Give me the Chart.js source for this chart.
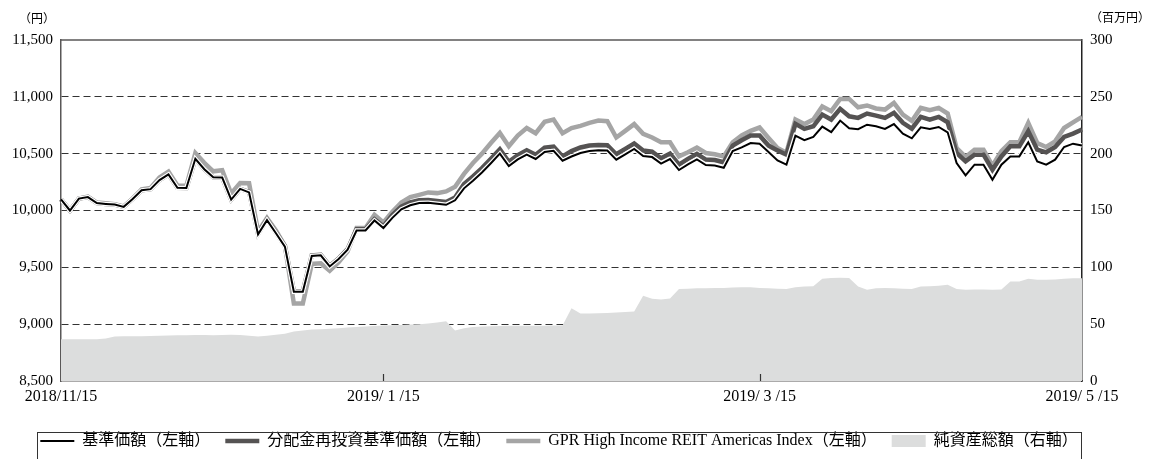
<!DOCTYPE html>
<html><head><meta charset="utf-8">
<script src="https://cdn.jsdelivr.net/npm/chart.js@4.4.0/dist/chart.umd.min.js"></script>
<style>html,body{margin:0;padding:0;background:#fff;}#wrap{position:relative;width:1154px;height:459px;}</style>
</head><body><div id="wrap"><canvas id="c"></canvas></div>
<script>
const dates = [
'2018/11/15','2018/11/16','2018/11/19','2018/11/20','2018/11/21','2018/11/22','2018/11/26','2018/11/27','2018/11/28','2018/11/29','2018/11/30',
'2018/12/03','2018/12/04','2018/12/05','2018/12/06','2018/12/07','2018/12/10','2018/12/11','2018/12/12','2018/12/13','2018/12/14','2018/12/17','2018/12/18','2018/12/19','2018/12/20','2018/12/21','2018/12/25','2018/12/26','2018/12/27','2018/12/28',
'2019/01/04','2019/01/07','2019/01/08','2019/01/09','2019/01/10','2019/01/11','2019/01/15','2019/01/16','2019/01/17','2019/01/18','2019/01/21','2019/01/22','2019/01/23','2019/01/24','2019/01/25','2019/01/28','2019/01/29','2019/01/30','2019/01/31',
'2019/02/01','2019/02/04','2019/02/05','2019/02/06','2019/02/07','2019/02/08','2019/02/12','2019/02/13','2019/02/14','2019/02/15','2019/02/18','2019/02/19','2019/02/20','2019/02/21','2019/02/22','2019/02/25','2019/02/26','2019/02/27','2019/02/28',
'2019/03/01','2019/03/04','2019/03/05','2019/03/06','2019/03/07','2019/03/08','2019/03/11','2019/03/12','2019/03/13','2019/03/14','2019/03/15','2019/03/18','2019/03/19','2019/03/20','2019/03/22','2019/03/25','2019/03/26','2019/03/27','2019/03/28','2019/03/29',
'2019/04/01','2019/04/02','2019/04/03','2019/04/04','2019/04/05','2019/04/08','2019/04/09','2019/04/10','2019/04/11','2019/04/12','2019/04/15','2019/04/16','2019/04/17','2019/04/18','2019/04/19','2019/04/22','2019/04/23','2019/04/24','2019/04/25','2019/04/26',
'2019/05/07','2019/05/08','2019/05/09','2019/05/10','2019/05/13','2019/05/14','2019/05/15'
];
const tickDates = ['2018/11/15','2019/01/15','2019/03/15','2019/05/15'];
const tickLabels = ['2018/11/15','2019/ 1 /15','2019/ 3 /15','2019/ 5 /15'];
const leftTicks = [8500,9000,9500,10000,10500,11000,11500];
const rightTicks = [0,50,100,150,200,250,300];
const unitLeft = '（円）';
const unitRight = '（百万円）';
const seriesNames = ['基準価額（左軸）','分配金再投資基準価額（左軸）','GPR High Income REIT Americas Index（左軸）','純資産総額（右軸）'];

const nav = [
10098,10000,10105,10118,10065,10058,10052,10032,10102,10178,
10188,10268,10318,10200,10198,10455,10363,10292,10290,10096,
10190,10159,9790,9915,9800,9682,9285,9285,9600,9606,
9508,9574,9655,9824,9824,9912,9846,9935,10010,10046,
10066,10068,10059,10050,10090,10195,10262,10335,10416,10500,
10390,10450,10492,10453,10515,10525,10438,10475,10506,10524,
10529,10527,10447,10494,10541,10479,10470,10412,10453,10356,
10406,10450,10400,10396,10376,10523,10555,10594,10588,10515,
10441,10403,10659,10618,10647,10738,10690,10791,10724,10715,
10755,10741,10718,10760,10676,10635,10732,10718,10735,10688,
10418,10309,10403,10403,10271,10403,10476,10476,10600,10432,
10403,10447,10559,10588,10571
];
const navReinvested = [
10098,10000,10105,10118,10065,10058,10052,10032,10102,10178,
10188,10268,10318,10200,10198,10455,10363,10292,10290,10096,
10190,10164,9795,9920,9805,9687,9290,9290,9605,9611,
9513,9579,9660,9834,9834,9922,9861,9960,10035,10071,
10091,10093,10084,10075,10115,10233,10300,10373,10454,10538,
10428,10488,10530,10491,10553,10563,10476,10523,10554,10572,
10577,10575,10495,10542,10589,10527,10518,10460,10501,10404,
10454,10498,10448,10444,10424,10571,10618,10659,10659,10571,
10529,10491,10762,10718,10741,10844,10800,10894,10829,10815,
10853,10835,10815,10859,10771,10720,10824,10800,10824,10776,
10506,10432,10491,10491,10359,10476,10565,10565,10697,10535,
10512,10559,10647,10676,10712
];
const gprIndex = [
10098,10000,10105,10122,10070,10064,10055,10035,10105,10185,
10198,10290,10342,10220,10218,10505,10420,10345,10355,10150,
10242,10240,9815,9935,9825,9690,9182,9182,9530,9535,
9470,9545,9640,9845,9845,9962,9894,9990,10071,10118,
10138,10159,10153,10168,10208,10322,10418,10500,10594,10682,
10565,10659,10726,10680,10780,10800,10680,10725,10745,10771,
10791,10785,10642,10700,10760,10675,10642,10600,10600,10476,
10512,10553,10506,10495,10476,10600,10660,10700,10730,10638,
10550,10509,10800,10760,10800,10915,10874,10982,10982,10908,
10924,10898,10888,10947,10844,10788,10903,10882,10903,10853,
10550,10471,10535,10535,10394,10521,10600,10600,10771,10594,
10559,10609,10726,10776,10824
];
const netAssets = [
36.8,36.8,36.8,36.8,36.8,37.5,39.2,39.4,39.4,39.4,
39.6,39.8,40.0,40.2,40.3,40.4,40.4,40.3,40.5,40.6,
40.4,39.7,39.1,39.7,40.6,41.5,43.5,44.4,45.3,45.6,
46.0,46.5,47.0,47.6,47.9,48.4,48.8,49.1,49.3,49.6,
50.0,50.5,51.5,52.6,44.4,46.5,47.5,47.9,48.1,48.3,
48.5,48.5,48.6,48.6,48.7,48.8,48.9,64.1,59.3,59.3,
59.7,59.8,60.3,60.8,61.2,75.0,72.4,71.8,72.6,80.9,
81.2,81.5,81.5,81.8,81.8,82.2,82.4,82.4,81.8,81.5,
81.2,80.9,82.4,83.2,83.4,90.0,90.6,90.8,90.6,83.2,
80.3,81.5,81.8,81.5,81.2,80.9,83.2,83.3,83.8,84.7,
80.9,80.3,80.6,80.6,80.3,80.4,87.6,87.6,90.0,89.1,
89.1,89.4,90.0,90.3,90.3
];

const SERIF = "'Liberation Serif','Noto Sans CJK JP',serif";
const CJK = "'Noto Sans CJK JP','Liberation Serif',sans-serif";
Chart.defaults.font.family = SERIF;
Chart.defaults.color = '#000';

const frame = {
  id: 'frame',
  beforeDatasetDraw(chart, args) {
    if (args.index !== 0) return;
    const line = args.meta.dataset;
    const o = line.options;
    const ctx = chart.ctx, a = chart.chartArea;
    ctx.save();
    ctx.beginPath(); ctx.rect(a.left, a.top, a.right - a.left, a.bottom - a.top); ctx.clip();
    line.options = Object.assign({}, o, {borderColor: '#ffffff', borderWidth: 4.5});
    line.draw(ctx, a);
    line.options = o;
    ctx.restore();
  },
  afterDraw(chart) {
    const ctx = chart.ctx, a = chart.chartArea;
    const xs = chart.scales.x;
    ctx.save();
    ctx.strokeStyle = '#595757'; ctx.lineWidth = 1.5;
    ctx.beginPath(); ctx.moveTo(a.left, a.top); ctx.lineTo(a.right, a.top); ctx.stroke();
    ctx.strokeStyle = '#333'; ctx.lineWidth = 1.2;
    tickDates.forEach((d, k) => {
      if (k === 0 || k === tickDates.length - 1) return;
      const x = Math.round(xs.getPixelForValue(dates.indexOf(d))) + 0.5;
      ctx.beginPath(); ctx.moveTo(x, a.bottom); ctx.lineTo(x, a.bottom - 7); ctx.stroke();
    });
    ctx.fillStyle = '#000';
    ctx.font = '12px ' + CJK;
    ctx.textBaseline = 'middle'; ctx.textAlign = 'center';
    ctx.fillText(unitLeft, a.left - 24, 18);
    ctx.fillText(unitRight, a.right + 38, 17);
    ctx.strokeStyle = '#333'; ctx.lineWidth = 1;
    ctx.strokeRect(a.left - 23.5, a.bottom + 51.5, (a.right - 1) - (a.left - 24), 60);
    ctx.restore();
  }
};

new Chart(document.getElementById('c'), {
  type: 'line',
  data: {
    labels: dates,
    datasets: [
      {label: seriesNames[0], data: nav, yAxisID: 'y', borderColor: '#000000', borderWidth: 2, pointRadius: 0, tension: 0, fill: false},
      {label: seriesNames[1], data: navReinvested, yAxisID: 'y', borderColor: '#555353', borderWidth: 4.5, pointRadius: 0, tension: 0, fill: false},
      {label: seriesNames[2], data: gprIndex, yAxisID: 'y', borderColor: '#a5a5a5', borderWidth: 4.5, pointRadius: 0, tension: 0, fill: false},
      {label: seriesNames[3], data: netAssets, yAxisID: 'y1', borderColor: 'rgba(0,0,0,0)', borderWidth: 0, backgroundColor: '#dcdddd', pointRadius: 0, tension: 0, fill: 'origin'}
    ]
  },
  options: {
    responsive: true, maintainAspectRatio: false, animation: false,
    layout: {padding: {top: 40, right: 36, left: 0, bottom: 0}},
    plugins: {
      tooltip: {enabled: false},
      legend: {
        position: 'bottom',
        labels: {
          usePointStyle: true, pointStyleWidth: 34, boxHeight: 12, padding: 15,
          font: {size: 16, family: SERIF}, color: '#000',
          generateLabels(chart) {
            return chart.data.datasets.map((ds, i) => ({
              text: ds.label,
              datasetIndex: i,
              pointStyle: i < 3 ? 'line' : 'rect',
              fillStyle: i < 3 ? ds.borderColor : ds.backgroundColor,
              strokeStyle: i < 3 ? ds.borderColor : 'rgba(0,0,0,0)',
              lineWidth: i < 3 ? ds.borderWidth : 0,
              hidden: false
            }));
          }
        }
      }
    },
    scales: {
      x: {
        type: 'category',
        grid: {display: false, drawTicks: false},
        border: {display: true, color: '#595757', width: 1.5},
        ticks: {
          autoSkip: false, maxRotation: 0, minRotation: 0, padding: 6,
          font: {size: 16, family: SERIF}, color: '#000',
          callback(v, i) { const k = tickDates.indexOf(dates[i]); return k >= 0 ? tickLabels[k] : ''; }
        },
        afterFit(s) { s.height = 37; }
      },
      y: {
        position: 'left', min: leftTicks[0], max: leftTicks[leftTicks.length - 1],
        afterBuildTicks(s) { s.ticks = leftTicks.map(v => ({value: v})); },
        grid: {
          drawTicks: false, lineWidth: 1,
          color: c => (c.tick && (c.tick.value === leftTicks[0] || c.tick.value === leftTicks[leftTicks.length - 1])) ? 'rgba(0,0,0,0)' : '#333'
        },
        border: {display: true, color: '#595757', width: 1.5, dash: [7, 4]},
        ticks: {padding: 8, font: {size: 15, family: SERIF}, color: '#000', callback: v => v.toLocaleString('en-US')},
        afterFit(s) { s.width = 61; }
      },
      y1: {
        position: 'right', min: rightTicks[0], max: rightTicks[rightTicks.length - 1],
        afterBuildTicks(s) { s.ticks = rightTicks.map(v => ({value: v})); },
        grid: {display: false, drawTicks: false},
        border: {display: true, color: '#222', width: 1.5},
        ticks: {padding: 8, font: {size: 15, family: SERIF}, color: '#000'},
        afterFit(s) { s.width = 36; }
      }
    }
  },
  plugins: [frame]
});
</script></body></html>
